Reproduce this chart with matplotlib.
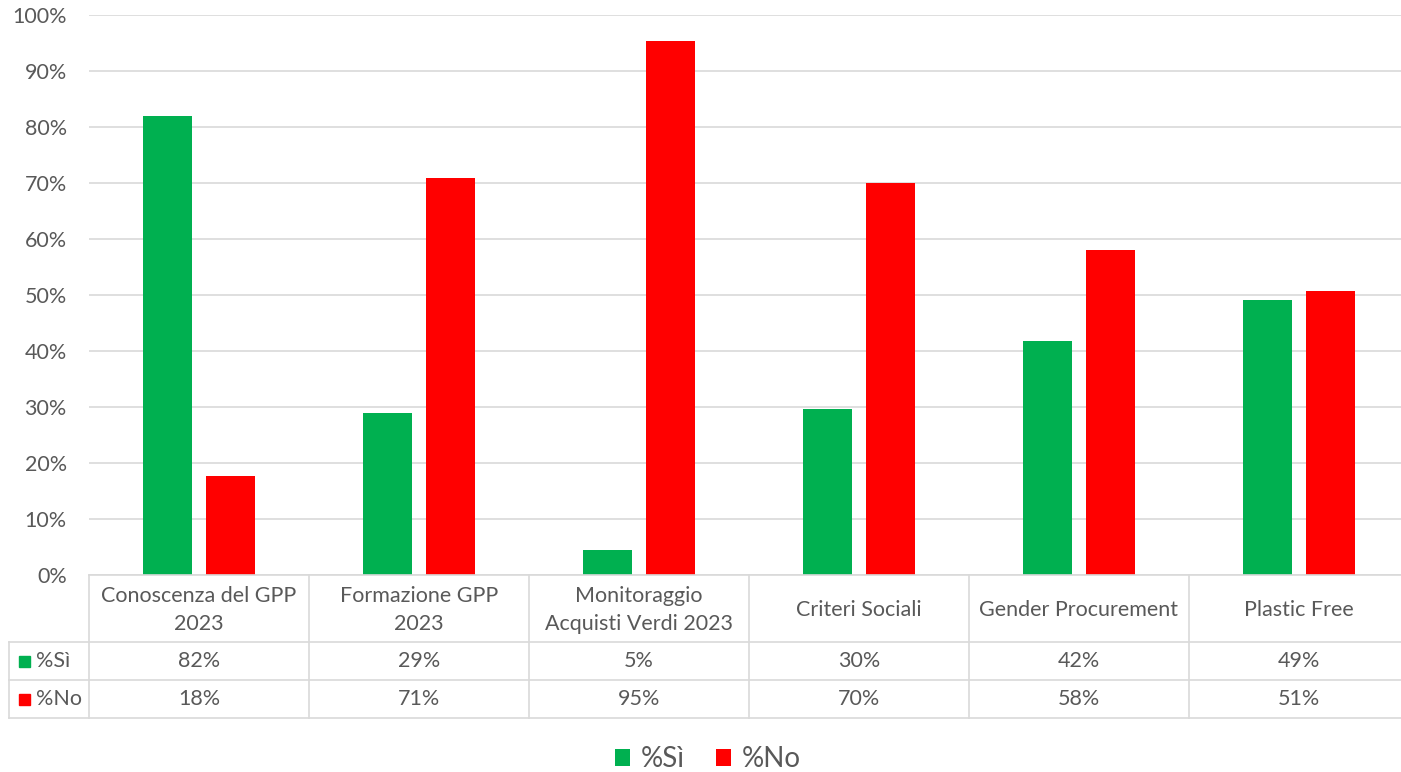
import matplotlib
matplotlib.use("Agg")
import matplotlib.pyplot as plt
from matplotlib.patches import Patch, Rectangle

categories = ["Conoscenza del GPP\n2023", "Formazione GPP\n2023", "Monitoraggio\nAcquisti Verdi 2023",
              "Criteri Sociali", "Gender Procurement", "Plastic Free"]
si_values = [82.0, 28.9, 4.5, 29.7, 41.8, 49.1]
no_values = [17.7, 70.9, 95.4, 70.0, 58.0, 50.7]
si_labels = ["82%", "29%", "5%", "30%", "42%", "49%"]
no_labels = ["18%", "71%", "95%", "70%", "58%", "51%"]
series_names = ["%Sì", "%No"]
yticks = list(range(0, 101, 10))

GREEN = "#00B050"
RED = "#FF0000"
TXT = "#595959"
GRID = "#D9D9D9"
FONT = ["Lato", "DejaVu Sans"]
plt.rcParams['font.family'] = FONT
FS = 15.5

W, H = 1401, 772
fig = plt.figure(figsize=(W / 100, H / 100), dpi=100)

# main plot area in pixels
px_left, px_right, px_top, px_bottom = 89, 1409, 15, 575
ax = fig.add_axes([px_left / W, (H - px_bottom) / H, (px_right - px_left) / W, (px_bottom - px_top) / H])
n = len(categories)
bw = 0.2227
off = 0.143
xs = [i + 0.5 for i in range(n)]
ax.bar([x - off for x in xs], si_values, width=bw, color=GREEN, zorder=3)
ax.bar([x + off for x in xs], no_values, width=bw, color=RED, zorder=3)
ax.set_xlim(0, n)
ax.set_ylim(0, 100)
ax.set_yticks(yticks)
ax.set_yticklabels([f"{t}%" for t in yticks], color=TXT, fontsize=FS)
ax.tick_params(axis='y', length=0, pad=16)
ax.set_xticks([])
ax.yaxis.grid(True, color=GRID, linewidth=1.2, zorder=0)
for s in ["left", "right", "top"]:
    ax.spines[s].set_visible(False)
ax.spines["bottom"].set_color(GRID)
ax.spines["bottom"].set_linewidth(1.2)
ax.spines["bottom"].set_zorder(4)

# data table below
t_left, t_top, t_bottom = 9, 575, 718
cat_w = (px_right - px_left) / n
x0 = -(px_left - t_left) / cat_w
tax = fig.add_axes([t_left / W, (H - t_bottom) / H, (px_right - t_left) / W, (t_bottom - t_top) / H])
tax.set_xlim(x0, n)
row_h = 38
head_h = t_bottom - t_top - 2 * row_h
tax.set_ylim(0, 2 * row_h + head_h)
tax.axis("off")
lk = dict(color=GRID, linewidth=1.2, clip_on=False)
tax.plot([x0, n], [0, 0], **lk)
tax.plot([x0, n], [row_h, row_h], **lk)
tax.plot([x0, n], [2 * row_h, 2 * row_h], **lk)
tax.plot([x0, x0], [0, 2 * row_h], **lk)
for i in range(n):
    tax.plot([i, i], [0, 2 * row_h + head_h], **lk)

ty_head = 2 * row_h + head_h / 2 - 2
for i, c in enumerate(categories):
    tax.text(i + 0.5, ty_head, c, ha="center", va="center", color=TXT, fontsize=FS, linespacing=1.5)
    tax.text(i + 0.5, row_h * 1.5, si_labels[i], ha="center", va="center", color=TXT, fontsize=FS)
    tax.text(i + 0.5, row_h * 0.5, no_labels[i], ha="center", va="center", color=TXT, fontsize=FS)

sq = 11 / cat_w
for j, (name, col) in enumerate(zip(series_names, [GREEN, RED])):
    yc = row_h * (1.5 - j)
    tax.add_patch(Rectangle((x0 + 10 / cat_w, yc - 5.5), sq, 11, color=col, clip_on=False))
    tax.text(x0 + 27 / cat_w, yc, name, ha="left", va="center", color=TXT, fontsize=FS)

handles = [Patch(facecolor=GREEN, label=series_names[0]), Patch(facecolor=RED, label=series_names[1])]
fig.legend(handles=handles, loc="center", bbox_to_anchor=(708 / W, (H - 759) / H), ncol=2, frameon=False,
           fontsize=20, handlelength=0.55, handleheight=0.55, handletextpad=0.4, columnspacing=1.1,
           labelcolor=TXT)

fig.savefig("out.png", dpi=100)
